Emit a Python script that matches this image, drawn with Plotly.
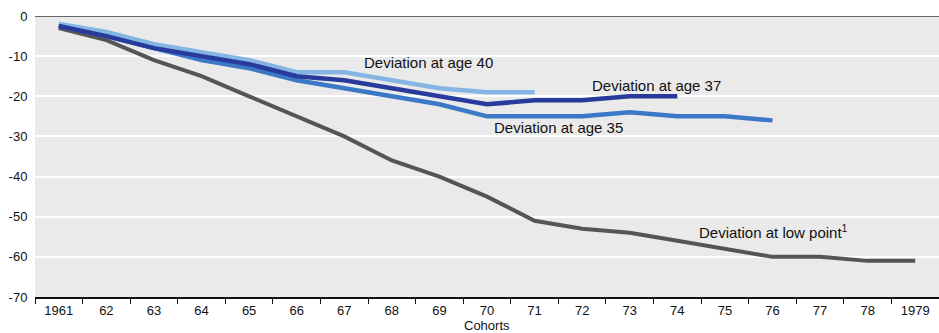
import plotly.graph_objects as go

cohorts = ["1961", "62", "63", "64", "65", "66", "67", "68", "69", "70",
           "71", "72", "73", "74", "75", "76", "77", "78", "1979"]

low_point = [-3, -6, -11, -15, -20, -25, -30, -36, -40, -45,
             -51, -53, -54, -56, -58, -60, -60, -61, -61]
age35 = [-2.5, -5, -8, -11, -13, -16, -18, -20, -22, -25,
         -25, -25, -24, -25, -25, -26]
age37 = [-2.5, -5, -8, -10, -12, -15, -16, -18, -20, -22,
         -21, -21, -20, -20]
age40 = [-2, -4, -7, -9, -11, -14, -14, -16, -18, -19, -19]

y_ticks = [0, -10, -20, -30, -40, -50, -60, -70]
y_tick_text = ["0", "-10", "-20", "-30", "-40", "-50", "-60", "-70"]

labels = {
    "Deviation at age 40": (7.76, -11.7),
    "Deviation at age 37": (12.56, -17.2),
    "Deviation at age 35": (10.51, -27.7),
    "Deviation at low point<sup>1</sup>": (15.03, -53.8),
}

FONT = "Liberation Sans, Arial, sans-serif"

fig = go.Figure()
fig.add_trace(go.Scatter(x=cohorts, y=low_point, mode="lines",
                         line=dict(color="#555555", width=4), name="low point"))
fig.add_trace(go.Scatter(x=cohorts[:len(age35)], y=age35, mode="lines",
                         line=dict(color="#3b78c5", width=4.5), name="age 35"))
fig.add_trace(go.Scatter(x=cohorts[:len(age40)], y=age40, mode="lines",
                         line=dict(color="#85b5e3", width=4.5), name="age 40"))
fig.add_trace(go.Scatter(x=cohorts[:len(age37)], y=age37, mode="lines",
                         line=dict(color="#283a9c", width=4.5), name="age 37"))

for text, (ax, ay) in labels.items():
    fig.add_annotation(x=ax, y=ay, xref="x", yref="y", text=text, showarrow=False,
                       font=dict(family=FONT, size=15, color="#111111"))

fig.add_annotation(x=0.5, y=-0.103, xref="paper", yref="paper", text="Cohorts",
                   showarrow=False, yanchor="middle",
                   font=dict(family=FONT, size=13, color="#111111"))

fig.add_shape(type="line", xref="paper", yref="y", x0=0, x1=1, y0=0, y1=0,
              line=dict(color="#666666", width=2))

fig.update_layout(
    width=939, height=333,
    margin=dict(l=35, r=0, t=16, b=36),
    plot_bgcolor="#eaeaea", paper_bgcolor="white",
    showlegend=False,
    font=dict(family=FONT, size=13, color="#111111"),
)
fig.update_xaxes(
    type="category", tickson="boundaries", ticks="outside", ticklen=5,
    tickcolor="#111111", showline=True, linecolor="#111111", linewidth=2,
    showgrid=False, range=[-0.5, len(cohorts) - 0.5], automargin=False,
    tickfont=dict(size=13),
)
fig.update_yaxes(
    range=[-70, 0], tickvals=y_ticks, ticktext=y_tick_text,
    showgrid=True, gridcolor="white", gridwidth=1.5,
    zeroline=False, showline=False, ticks="outside", ticklen=4,
    tickcolor="rgba(0,0,0,0)", tickfont=dict(size=13), automargin=False,
)

fig.write_html("out.html", config={"displayModeBar": False},
               post_script="document.body.style.margin='0';document.body.style.overflow='hidden';")
